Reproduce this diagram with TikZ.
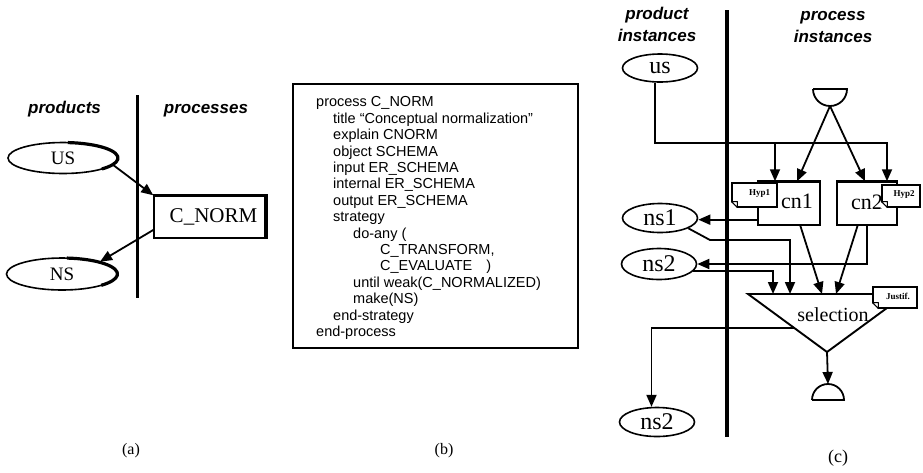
\documentclass[tikz,border=0pt]{standalone}
\usepackage{fontspec}
\setmainfont{Liberation Serif}
\newfontfamily\hvfont{Liberation Sans}
\usetikzlibrary{shapes.geometric,arrows.meta,calc}

\begin{document}
\begin{tikzpicture}[x=1pt,y=-1pt,
  conn/.style={line width=1.8pt},
  arr/.style={conn,-{Triangle[length=12pt,width=10pt]}},
  heading/.style={font=\hvfont\bfseries\itshape\fontsize{17}{20}\selectfont, inner sep=0, anchor=base},
  prod/.style={ellipse, draw, line width=1.6pt, inner sep=0, fill=white},
  bigprod/.style={prod, font=\fontsize{19}{19}\selectfont},
  inst/.style={prod, minimum width=75pt, font=\fontsize{24}{24}\selectfont},
  procbox/.style={draw, line width=1.5pt, inner sep=0, fill=white},
  notebox/.style={draw, fill=white, line width=1.1pt, inner sep=0,
    font=\bfseries\fontsize{9}{9}\selectfont},
  caption/.style={font=\fontsize{16}{16}\selectfont, inner sep=0}
]
\useasboundingbox (0,0) rectangle (923,472);

% ---------- (a) product / process types ----------
\node[heading] (hprod) at (64.5,113) {products};
\node[heading] (hproc) at (206,113) {processes};
\draw[line width=3pt] (137,95) -- (137,298);

\node[bigprod, minimum width=110pt, minimum height=31pt] (US) at (63,158) {US};
\node[bigprod, minimum width=111pt, minimum height=32pt] (NS) at (62,274) {NS};
\draw[line width=3.2pt] (US.center) ++(85:55pt and 15.5pt)
  arc[start angle=85, end angle=-45, x radius=55pt, y radius=15.5pt];
\draw[line width=3.2pt] (NS.center) ++(85:55.5pt and 16pt)
  arc[start angle=85, end angle=-45, x radius=55.5pt, y radius=16pt];

\node[procbox, minimum width=111pt, minimum height=42pt,
  font=\fontsize{21}{21}\selectfont] (cnorm) at (209.5,217) {\hspace*{8pt}C\_NORM};
\draw[line width=3.5pt, line join=miter]
  (cnorm.north west) -- (cnorm.north east) -- (cnorm.south east);

\draw[arr] (US.-8) -- (cnorm.north west);
\draw[arr] (cnorm.193) -- (NS.18);

% ---------- (b) process specification ----------
\node[draw, line width=1.8pt, minimum width=285pt, minimum height=264pt,
  anchor=north west, inner sep=0] (spec) at (292,83) {};
\node[anchor=north west, inner sep=0, align=left,
  font=\hvfont\fontsize{14.5}{16.4}\selectfont] (code) at (316,96.5) {%
process C\_NORM\\
\hspace*{17pt}title “Conceptual normalization”\\
\hspace*{17pt}explain CNORM\\
\hspace*{17pt}object SCHEMA\\
\hspace*{17pt}input ER\_SCHEMA\\
\hspace*{17pt}internal ER\_SCHEMA\\
\hspace*{17pt}output ER\_SCHEMA\\
\hspace*{17pt}strategy\\
\hspace*{37pt}do-any (\\
\hspace*{64pt}C\_TRANSFORM,\\
\hspace*{64pt}C\_EVALUATE\hspace*{14pt})\\
\hspace*{37pt}until weak(C\_NORMALIZED)\\
\hspace*{37pt}make(NS)\\
\hspace*{17pt}end-strategy\\
end-process};

% ---------- (c) instances ----------
\node[heading] (hpi1) at (657,19) {product};
\node[heading] (hpi2) at (657,41) {instances};
\node[heading] (hri1) at (833,20) {process};
\node[heading] (hri2) at (833,42) {instances};
\draw[line width=4pt] (727,10) -- (727,437);

\node[inst, minimum height=28pt] (us) at (660,68) {us};
\node[inst, minimum height=29pt] (ns1) at (660,218) {ns1};
\node[inst, minimum height=31pt] (ns2a) at (659,264) {ns2};
\node[inst, minimum height=29pt] (ns2b) at (657,422) {ns2};

% start and end symbols
\draw[line width=1.8pt] (813,89) -- (847,89) arc[start angle=0, end angle=-180, radius=17pt];
\coordinate (startpt) at (830,106);
\draw[line width=1.8pt] (812,400) -- (844,400) arc[start angle=0, end angle=180, radius=16pt];
\coordinate (endpt) at (828,384);

% process instances with their hypotheses
\node[procbox, minimum width=62pt, minimum height=43pt] (cn1) at (789,203.5) {};
\node[inner sep=0, font=\fontsize{22}{22}\selectfont] (cn1t) at (797,201) {cn1};
\node[procbox, minimum width=60pt, minimum height=43pt,
  font=\fontsize{22}{22}\selectfont] (cn2) at (867,203.5) {\raisebox{2.5pt}{cn2}};
\draw[line width=3pt] (cn1.north west) -- (cn1.north east);
\draw[line width=3pt] (cn2.north west) -- (cn2.north east);

\node[notebox, minimum width=45pt, minimum height=24pt] (hyp1) at (754.5,195)
  {\raisebox{4pt}{\hspace*{10pt}Hyp1}};
\node[notebox, minimum width=38pt, minimum height=22pt] (hyp2) at (901,196)
  {\raisebox{4pt}{\hspace*{6pt}Hyp2}};

% selection
\coordinate (selL) at (748,294);
\coordinate (selR) at (906,294);
\coordinate (selA) at (827,352);
\draw[line width=1.9pt, line join=miter] (selL) -- (selR) -- (selA) -- cycle;
\node[inner sep=0, font=\fontsize{20}{20}\selectfont] (sel) at (833,315) {selection};
\node[notebox, minimum width=44pt, minimum height=21pt] (justif) at (895,297.5)
  {\raisebox{3pt}{\hspace*{6pt}Justif.}};

% folded corners of the notes
\foreach \n in {hyp1,hyp2,justif}{
  \fill[white] ([xshift=-1pt,yshift=-1pt]\n.south west) -- ([yshift=6pt]\n.south west)
    -- ([xshift=6pt]\n.south west) -- cycle;
  \draw[line width=1pt, line join=round] ([yshift=6pt]\n.south west)
    -- ([xshift=6pt]\n.south west) -- ([xshift=6pt,yshift=6pt]\n.south west) -- cycle;
}

\coordinate (in1) at (773,294);
\coordinate (in2) at (790,294);
\coordinate (in3) at (822,294);
\coordinate (in4) at (836,294);
\coordinate (selout) at ($(selL)!0.586!(selA)$);
\coordinate (j1) at (775,143);
\coordinate (j2) at (887,143);
\coordinate (k1) at (710,240);

% connectors
\draw[arr] (us.250) |- (j2) -- (j2 |- cn2.north);
\draw[arr] (j1) -- (j1 |- cn1.north);
\draw[arr] (startpt) -- (cn1.70);
\draw[arr] (startpt) -- (cn2.95);
\draw[arr] (cn1.207) -- (cn1.207 -| ns1.east);
\draw[arr] (ns1.-20) -- (k1) -| (in2);
\draw[arr] (cn2.south) |- (ns2a.east);
\draw[arr] (ns2a.-12) -| (in1);
\draw[arr] (cn1.-63) -- (in3);
\draw[arr] (cn2.-113) -- (in4);
\draw[arr] (selout) -| (ns2b.110);
\draw[arr] (selA) -- (endpt);

% captions
\node[caption] (capa) at (131,451) {(a)};
\node[caption] (capb) at (444,451) {(b)};
\node[caption, font=\fontsize{18}{18}\selectfont] (capc) at (838,458) {(c)};
\end{tikzpicture}
\end{document}
